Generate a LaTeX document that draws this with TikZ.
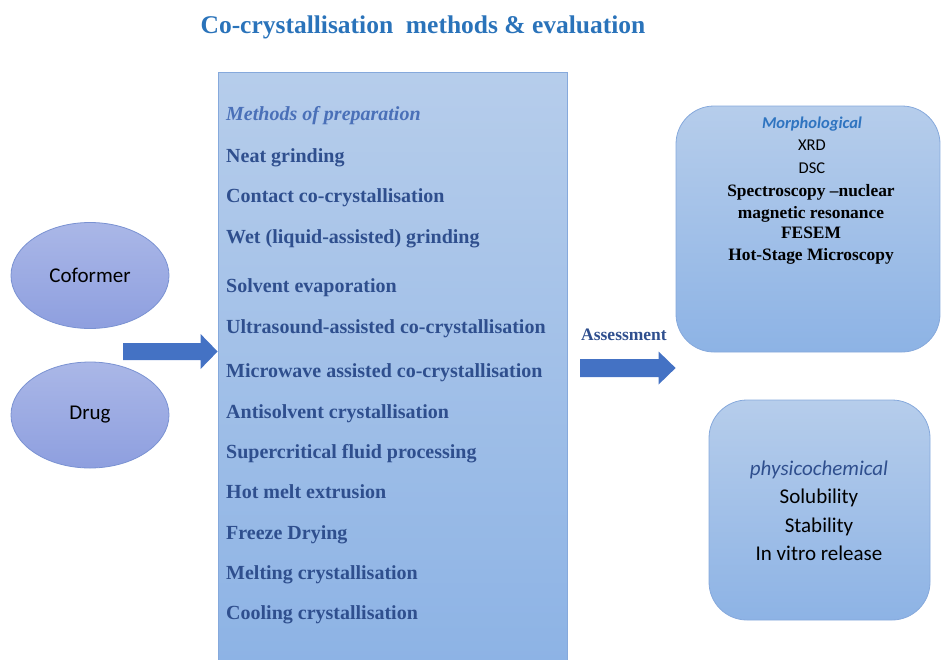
\documentclass[tikz,border=0pt]{standalone}
\usepackage{fontspec}
\setmainfont{Liberation Serif}
\newfontfamily\calibri{Carlito}
\usetikzlibrary{calc,shapes.geometric}
\definecolor{ccTop}{HTML}{B6CDEB}
\definecolor{ccBot}{HTML}{8DB3E5}
\definecolor{ccLine}{HTML}{86A9DC}
\definecolor{ccEllTop}{HTML}{AAB7E7}
\definecolor{ccEllBot}{HTML}{8E9FDF}
\definecolor{ccEllLine}{HTML}{7A92D2}
\definecolor{ccArrow}{HTML}{4472C4}
\definecolor{ccTitle}{HTML}{2A73BA}
\definecolor{ccItem}{HTML}{2F4F8E}
\definecolor{ccMeth}{HTML}{4A70B8}
\definecolor{ccMorph}{HTML}{2E74C0}
\tikzset{
  panel/.style    ={draw=ccLine,line width=0.8pt,top color=ccTop,bottom color=ccBot,
                    inner sep=0pt},
  methbox/.style  ={panel,rectangle,minimum width=349pt,minimum height=590pt},
  evalbox/.style  ={panel,rectangle,rounded corners=38pt},
  agent/.style    ={ellipse,draw=ccEllLine,line width=0.8pt,top color=ccEllTop,
                    bottom color=ccEllBot,minimum width=158pt,minimum height=106pt,
                    inner sep=0pt,font=\calibri\fontsize{21}{25}\selectfont},
  item/.style     ={anchor=base west,inner sep=0pt,text=ccItem,
                    font=\bfseries\fontsize{20}{24}\selectfont},
  itemhead/.style ={item,text=ccMeth,font=\bfseries\itshape\fontsize{20}{24}\selectfont},
  evlbl/.style    ={anchor=base,inner sep=0pt},
  calbl/.style    ={evlbl,font=\calibri\fontsize{16.5}{20}\selectfont},
  serlbl/.style   ={evlbl,font=\bfseries\fontsize{17.4}{20}\selectfont},
  phlbl/.style    ={evlbl,font=\calibri\fontsize{21}{25}\selectfont},
  blockarrow/.style={fill=ccArrow,draw=none},
}

\begin{document}
\begin{tikzpicture}[x=1pt,y=-1pt]
\useasboundingbox (0,0) rectangle (941,659);

\node[anchor=base,inner sep=0pt,text=ccTitle,font=\bfseries\fontsize{25.5}{30}\selectfont]
  (title) at (423,33) {Co-crystallisation\ \ methods \& evaluation};

% methods panel
\node[methbox] (prep) at (392.5,367) {};
\node[itemhead] (methhead) at (226,120) {Methods of preparation};
\foreach \y/\t in {162/Neat grinding, 202/Contact co-crystallisation,
                   243/Wet (liquid-assisted) grinding, 292/Solvent evaporation,
                   333/Ultrasound-assisted co-crystallisation,
                   377/Microwave assisted co-crystallisation,
                   418/Antisolvent crystallisation, 458/Supercritical fluid\ processing,
                   498/Hot melt extrusion, 539/Freeze Drying,
                   579/Melting crystallisation, 619/Cooling crystallisation}
  \node[item] (m\y) at (226,\y) {\t};

% starting materials
\node[agent] (coformer) at (90,275.5) {Coformer};
\node[agent] (drug) at (90,415) {Drug};

% evaluation panels
\node[evalbox,minimum width=264pt,minimum height=246pt] (morph) at (808,229) {};
\node[evalbox,minimum width=221pt,minimum height=220pt] (phys) at (819.5,510) {};

\node[calbl,text=ccMorph,font=\calibri\bfseries\itshape\fontsize{16.5}{20}\selectfont]
  (morphhead) at (812,128) {Morphological};
\node[calbl] (xrd) at (812,150) {XRD};
\node[calbl] (dsc) at (812,173) {DSC};
\node[serlbl] (nmrA) at (811,196) {Spectroscopy --nuclear};
\node[serlbl] (nmrB) at (811,218) {magnetic resonance};
\node[serlbl] (fesem) at (811,238) {FESEM};
\node[serlbl] (hsm) at (811,260) {Hot-Stage Microscopy};

\node[phlbl,text=ccItem,font=\calibri\itshape\fontsize{21}{25}\selectfont]
  (physhead) at (819,475) {physicochemical};
\node[phlbl] (sol) at (819,503) {Solubility};
\node[phlbl] (stab) at (819,532) {Stability};
\node[phlbl] (invitro) at (819,560) {In vitro release};

% block arrows
\newcommand{\blockarr}[5]{% start, tip, shaft half, head half, head length
  \fill[blockarrow] ($(#1)+(0,-#3)$) -- ($(#2)+(-#5,-#3)$) -- ($(#2)+(-#5,-#4)$) -- (#2)
    -- ($(#2)+(-#5,#4)$) -- ($(#2)+(-#5,#3)$) -- ($(#1)+(0,#3)$) -- cycle;}
\coordinate (mixIn) at (123,351.5);
\coordinate (mixTip) at (prep.west |- mixIn);
\blockarr{mixIn}{mixTip}{8.5}{17.5}{17}
\coordinate (evalIn) at (580,368);
\coordinate (evalTip) at (morph.west |- evalIn);
\blockarr{evalIn}{evalTip}{9}{16.5}{17}
\node[anchor=base,inner sep=0pt,text=ccItem,font=\bfseries\fontsize{17.5}{20}\selectfont]
  (assess) at (624,340) {Assessment};
\end{tikzpicture}
\end{document}
